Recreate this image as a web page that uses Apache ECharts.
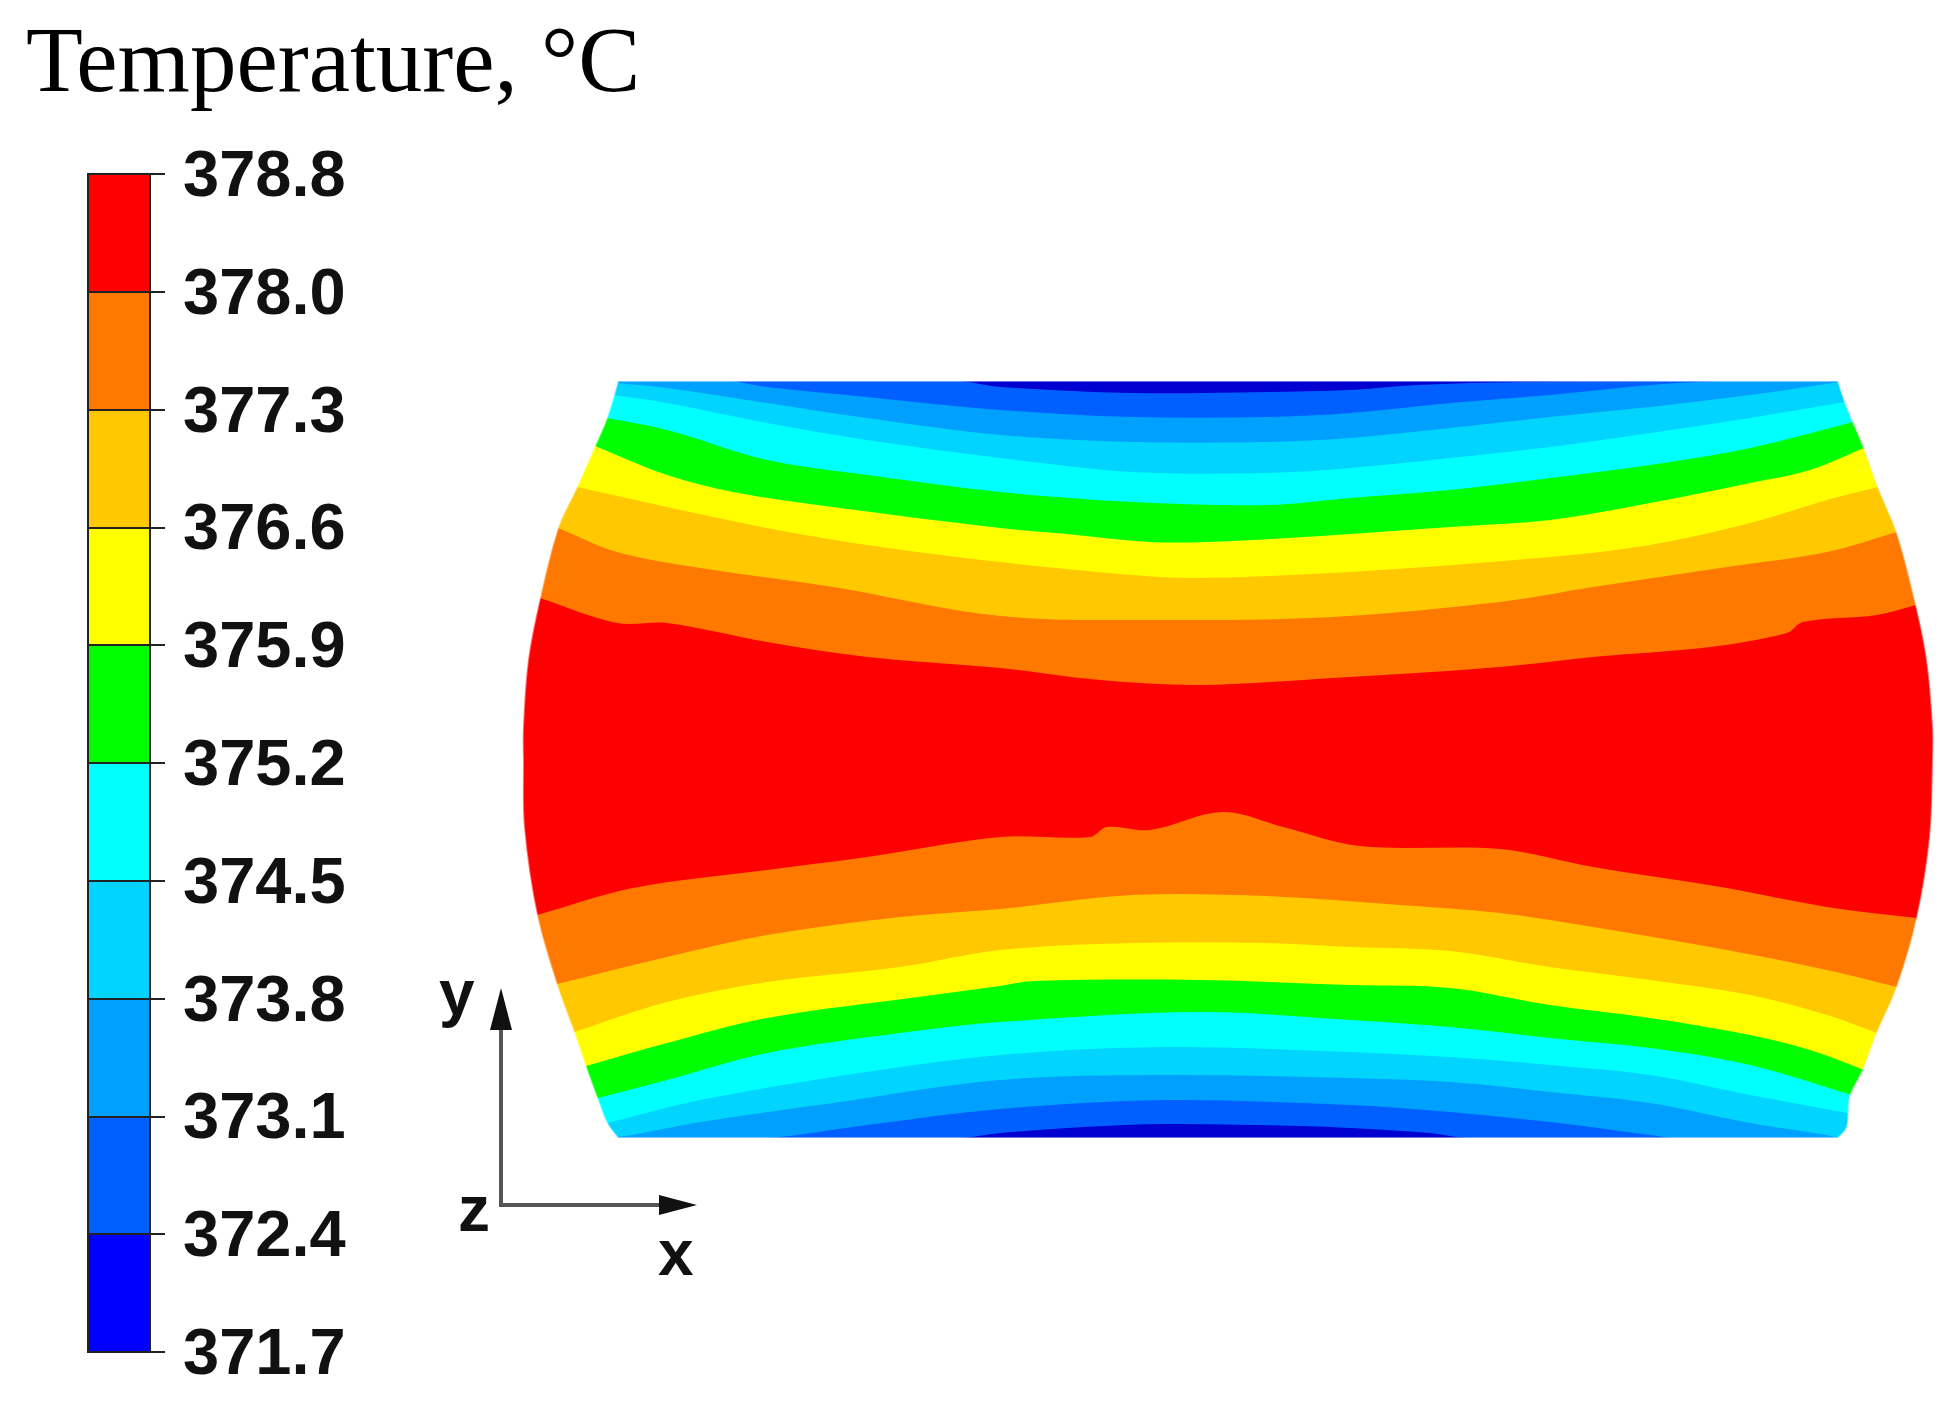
<!DOCTYPE html>
<html>
<head>
<meta charset="utf-8">
<title>Temperature</title>
<script src="https://cdn.jsdelivr.net/npm/echarts@6/dist/echarts.min.js"></script>
<style>
    html, body { margin: 0; padding: 0; background: #fff; }
    #chart { width: 1949px; height: 1409px; }
</style>
</head>
<body>
<div id="chart"></div>
<script>
// colour bar
var tickLabels = ['371.7', '372.4', '373.1', '373.8', '374.5', '375.2', '375.9', '376.6', '377.3', '378.0', '378.8'];
var barColors = ['#0000ff', '#0060ff', '#00a0ff', '#00d4ff', '#00ffff', '#00ff00', '#ffff00', '#ffc800', '#ff7800', '#ff0000'];
var bandSizes = [1, 1, 1, 1, 1, 1, 1, 1, 1, 1];

// plate outline, top to bottom
var leftEdge = [[95, 759], [84, 722], [72, 694], [54, 653], [35, 612], [17, 542], [5, 480], [0, 413], [0, 380], [1, 313], [14, 225], [34, 155], [51, 108], [64, 70], [75, 40], [84, 17], [95, 2]];
var rightEdge = [[1315, 759], [1325, 730], [1341, 692], [1355, 653], [1374, 607], [1393, 535], [1404, 480], [1410, 413], [1410, 380], [1407, 303], [1394, 222], [1374, 153], [1354, 107], [1340, 70], [1327, 43], [1324, 13], [1315, 2]];

// contour lines, top of the plate first
var c1 = [[437, 759], [477, 753], [610, 747], [744, 748], [827, 750], [894, 755], [1000, 758], [1144, 759]];
var c2 = [[210, 759], [244, 753], [344, 743], [477, 730], [610, 723], [744, 723], [827, 727], [927, 737], [1027, 745], [1127, 755], [1194, 759]];
var c3 = [[95, 757], [144, 752], [244, 737], [344, 722], [477, 705], [610, 698], [744, 698], [827, 702], [927, 712], [1027, 723], [1127, 733], [1227, 745], [1310, 757]];
var c4 = [[91, 745], [144, 737], [244, 717], [344, 700], [477, 682], [610, 668], [744, 667], [827, 672], [927, 682], [1027, 693], [1127, 707], [1227, 722], [1322, 738]];
var c5 = [[84, 722], [144, 710], [244, 680], [344, 665], [477, 648], [610, 638], [744, 635], [827, 642], [927, 650], [1027, 662], [1127, 675], [1227, 692], [1330, 718]];
var c6 = [[72, 694], [144, 665], [210, 648], [310, 633], [477, 612], [544, 606], [627, 598], [710, 599], [827, 606], [927, 613], [1027, 620], [1127, 637], [1227, 657], [1287, 670], [1341, 692]];
var c7 = [[54, 653], [144, 633], [244, 612], [344, 595], [477, 578], [610, 565], [677, 562], [827, 568], [1027, 583], [1127, 595], [1227, 617], [1304, 640], [1355, 653]];
var c8 = [[35, 612], [94, 588], [177, 572], [310, 553], [477, 524], [644, 520], [810, 523], [977, 538], [1070, 553], [1204, 573], [1304, 588], [1374, 608]];
var c9 = [[17, 542], [94, 517], [144, 517], [244, 498], [344, 483], [477, 472], [577, 460], [677, 455], [810, 462], [977, 473], [1070, 483], [1187, 493], [1264, 507], [1280, 518], [1354, 525], [1393, 535]];
var c10 = [[14, 225], [110, 252], [244, 270], [344, 283], [477, 303], [567, 303], [584, 313], [627, 310], [700, 328], [760, 313], [837, 294], [977, 291], [1070, 273], [1204, 252], [1304, 233], [1394, 222]];
var c11 = [[34, 156], [144, 183], [244, 205], [377, 223], [477, 231], [610, 245], [744, 244], [877, 235], [977, 227], [1070, 213], [1204, 190], [1304, 170], [1374, 153]];
var c12 = [[51, 108], [144, 138], [244, 158], [377, 173], [477, 190], [610, 197], [744, 197], [827, 193], [927, 189], [1027, 173], [1127, 160], [1227, 145], [1304, 125], [1354, 107]];
var c13 = [[63, 74], [144, 97], [244, 122], [410, 145], [477, 154], [510, 159], [677, 160], [827, 155], [927, 152], [1027, 135], [1127, 122], [1227, 105], [1287, 90], [1341, 70]];
var c14 = [[75, 42], [144, 60], [244, 87], [377, 107], [477, 118], [677, 128], [827, 120], [927, 113], [1027, 102], [1127, 92], [1227, 75], [1329, 45]];
var c15 = [[84, 17], [104, 22], [177, 40], [310, 63], [477, 85], [644, 93], [827, 88], [927, 83], [1027, 75], [1127, 65], [1227, 45], [1324, 27]];
var c16 = [[95, 3], [177, 18], [310, 37], [477, 60], [644, 65], [827, 62], [927, 58], [1027, 48], [1127, 37], [1227, 17], [1304, 5], [1315, 2]];
var c17 = [[244, 2], [344, 15], [477, 31], [644, 40], [827, 35], [927, 28], [1027, 18], [1127, 5], [1150, 2]];
var c18 = [[437, 2], [477, 7], [560, 13], [644, 16], [777, 14], [827, 12], [907, 7], [944, 2]];

var contours = [c1, c2, c3, c4, c5, c6, c7, c8, c9, c10, c11, c12, c13, c14, c15, c16, c17, c18];
// colour under each contour; the first one fills the whole plate
var plateColors = ['#0000d0', '#0060ff', '#00a0ff', '#00d4ff', '#00ffff', '#00ff00', '#ffff00', '#ffc800', '#ff7800', '#ff0000',
    '#ff7800', '#ffc800', '#ffff00', '#00ff00', '#00ffff', '#00d4ff', '#00a0ff', '#0060ff', '#0000d0'];

// bands are painted a bit past the plate, the white mask trims them to the outline
var X0 = -40, X1 = 1460, Y0 = -10, Y1 = 800;

// carry the end of a contour on to the side of the box
function reach(p, q, x) {
    var y = p[1] + (q[1] - p[1]) / (q[0] - p[0]) * (x - p[0]);
    return [x, Math.max(Y0, Math.min(Y1, y))];
}

function regionUnder(line) {
    var n = line.length;
    var full = [reach(line[0], line[1], X0)].concat(line, [reach(line[n - 1], line[n - 2], X1)]);
    return [full, [[X1, Y0]], [[X0, Y0]]];
}

var regions = [[[[X0, Y1]], [[X1, Y1]], [[X1, Y0]], [[X0, Y0]]]];
for (var i = 0; i < contours.length; i++) {
    regions.push(regionUnder(contours[i]));
}

// control point offset at pts[i], towards pts[j]
function handle(pts, i, j) {
    var prev = pts[i - 1], next = pts[i + 1];
    if (!prev || !next) {
        return [0, 0];
    }
    var dx = next[0] - prev[0], dy = next[1] - prev[1];
    var len = Math.sqrt(dx * dx + dy * dy) || 1;
    var sx = pts[j][0] - pts[i][0], sy = pts[j][1] - pts[i][1];
    var seg = Math.sqrt(sx * sx + sy * sy) / 3;
    var sign = j > i ? 1 : -1;
    return [sign * dx / len * seg, sign * dy / len * seg];
}

function sectionPath(pts, started) {
    var d = (started ? 'L' : 'M') + pts[0][0] + ' ' + pts[0][1];
    for (var i = 0; i < pts.length - 1; i++) {
        var h1 = handle(pts, i, i + 1);
        var h2 = handle(pts, i + 1, i);
        d += 'C' + (pts[i][0] + h1[0]) + ' ' + (pts[i][1] + h1[1]) + ' ' +
            (pts[i + 1][0] + h2[0]) + ' ' + (pts[i + 1][1] + h2[1]) + ' ' +
            pts[i + 1][0] + ' ' + pts[i + 1][1];
    }
    return d;
}

function regionPath(sections, api) {
    var d = '';
    sections.forEach(function (section, s) {
        d += sectionPath(section.map(function (p) { return api.coord(p); }), s > 0);
    });
    return d + 'Z';
}

var barSeries = bandSizes.map(function (size, i) {
    return {
        type: 'bar',
        xAxisIndex: 1,
        yAxisIndex: 1,
        stack: 'bar',
        barWidth: '100%',
        silent: true,
        z: 1,
        itemStyle: { color: barColors[i] },
        data: [size]
    };
});

var plateSeries = {
    type: 'custom',
    xAxisIndex: 0,
    yAxisIndex: 0,
    clip: false,
    silent: true,
    z: 2,
    data: regions.map(function (r, i) { return [i]; }),
    renderItem: function (params, api) {
        return {
            type: 'path',
            shape: { pathData: regionPath(regions[params.dataIndex], api) },
            style: { fill: plateColors[params.dataIndex] }
        };
    }
};

// white box with the plate outline cut out of it
var maskSeries = {
    type: 'custom',
    xAxisIndex: 0,
    yAxisIndex: 0,
    clip: false,
    silent: true,
    z: 3,
    data: [[0]],
    renderItem: function (params, api) {
        var hole = regionPath([rightEdge, leftEdge.slice().reverse()], api);
        var box = regionPath([[[X0, Y1]], [[X0, Y0]], [[X1, Y0]], [[X1, Y1]]], api);
        return {
            type: 'path',
            shape: { pathData: hole + box },
            style: { fill: '#fff', stroke: 'rgba(255,255,255,0.45)', lineWidth: 2 }
        };
    }
};

var axisLetter = { fontFamily: 'Liberation Sans', fontWeight: 'bold', fontSize: 64, fill: '#111' };

var option = {
    animation: false,
    backgroundColor: '#fff',
    title: {
        text: 'Temperature, °C',
        left: 21,
        top: 15,
        textStyle: { fontFamily: 'Liberation Serif', fontWeight: 'normal', fontSize: 93, color: '#000' }
    },
    grid: [
        { left: 523, top: 380, width: 1412, height: 760 },
        { left: 88, top: 174, width: 62, height: 1178, show: true, borderColor: '#222', borderWidth: 2, backgroundColor: 'transparent', z: 3 }
    ],
    xAxis: [
        { type: 'value', gridIndex: 0, min: 0, max: 1412, show: false },
        { type: 'category', gridIndex: 1, data: ['bar'], show: false }
    ],
    yAxis: [
        { type: 'value', gridIndex: 0, min: 0, max: 760, show: false },
        {
            type: 'value',
            gridIndex: 1,
            position: 'right',
            min: 0,
            max: 10,
            interval: 1,
            z: 5,
            axisLine: { show: true, lineStyle: { color: '#222', width: 2 } },
            axisTick: { show: true, length: 15, lineStyle: { color: '#222', width: 2 } },
            splitLine: { show: true, lineStyle: { color: '#222', width: 2 } },
            axisLabel: {
                margin: 33,
                showMinLabel: true,
                showMaxLabel: true,
                formatter: function (v) { return '{num|' + tickLabels[v] + '}'; },
                rich: {
                    num: {
                        padding: [8, 0, 0, 0],
                        fontFamily: 'Liberation Sans',
                        fontWeight: 'bold',
                        fontSize: 65,
                        color: '#111'
                    }
                }
            }
        }
    ],
    series: barSeries.concat([plateSeries, maskSeries]),
    graphic: [
        // y arrow
        { type: 'line', z: 100, shape: { x1: 501, y1: 1205, x2: 501, y2: 1020 }, style: { stroke: '#555', lineWidth: 4 } },
        { type: 'polygon', z: 100, shape: { points: [[501, 988], [512, 1030], [490, 1030]] }, style: { fill: '#111' } },
        // x arrow
        { type: 'line', z: 100, shape: { x1: 499, y1: 1205, x2: 665, y2: 1205 }, style: { stroke: '#555', lineWidth: 4 } },
        { type: 'polygon', z: 100, shape: { points: [[697, 1205], [659, 1195], [659, 1215]] }, style: { fill: '#111' } },
        { type: 'text', z: 100, x: 439, y: 965, style: Object.assign({ text: 'y' }, axisLetter) },
        { type: 'text', z: 100, x: 458, y: 1181, style: Object.assign({ text: 'z' }, axisLetter) },
        { type: 'text', z: 100, x: 658, y: 1225, style: Object.assign({ text: 'x' }, axisLetter) }
    ]
};

var myChart = echarts.init(document.getElementById('chart'));
myChart.setOption(option);
</script>
</body>
</html>
